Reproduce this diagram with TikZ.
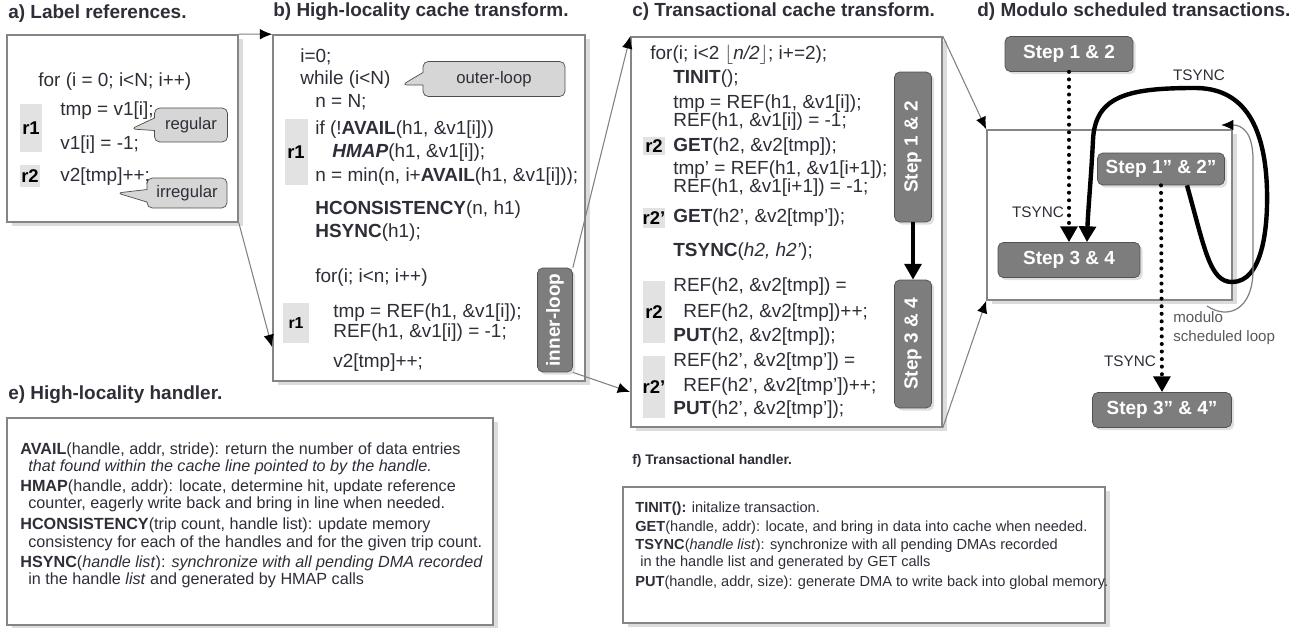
\documentclass[tikz,border=0pt]{standalone}
\usepackage{fontspec}
\setmainfont{Liberation Sans}
\usetikzlibrary{arrows.meta,shapes.callouts,shadows,fit}
\definecolor{boxline}{HTML}{858585}
\definecolor{txt}{HTML}{2E2E38}
\definecolor{stepfill}{HTML}{7D7D7D}
\definecolor{rfill}{HTML}{E2E2E2}
\definecolor{callfill}{HTML}{D6D6D6}
\begin{document}
\begin{tikzpicture}[x=0.02cm,y=-0.02cm,
  panel/.style={draw=boxline, line width=0.9pt, fill=white, inner sep=0pt,
    drop shadow={shadow xshift=3pt, shadow yshift=-2pt, opacity=0.28}},
  title/.style={anchor=mid west, inner sep=0pt, font=\fontsize{10.8}{13}\selectfont\bfseries, text=txt},
  code/.style={anchor=mid west, inner sep=0pt, font=\fontsize{10.8}{13}\selectfont, text=txt},
  desc/.style={anchor=mid west, inner sep=0pt, font=\fontsize{9.2}{11}\selectfont, text=txt},
  descf/.style={anchor=mid west, inner sep=0pt, font=\fontsize{8.3}{10}\selectfont, text=txt},
  rlab/.style={fill=rfill, font=\fontsize{10.5}{12}\selectfont\bfseries, text=black, inner sep=0pt},
  stepnode/.style={draw=stepfill!65!black, fill=stepfill, rounded corners=3pt, text=white,
    font=\fontsize{10.8}{13}\selectfont\bfseries, inner sep=0pt,
    drop shadow={opacity=0.25, shadow xshift=1.5pt, shadow yshift=-1.5pt}},
  callnode/.style={rectangle callout, draw=gray!60!black, fill=callfill, rounded corners=3pt,
    font=\fontsize{9.5}{11}\selectfont, text=txt, inner sep=0pt},
  zoomline/.style={draw=gray, line width=0.6pt, -{Latex[length=7pt,width=6pt,color=black]}},
  bigarrow/.style={line width=2.5pt, -{Triangle[width=9.5pt,length=9pt]}},
  dotline/.style={line width=2.3pt, line cap=round, dash pattern=on 0pt off 4.3pt,
    -{Triangle[width=9.5pt,length=9pt]}},
  loopline/.style={draw=gray, line width=0.7pt, -{Latex[length=7pt,width=6pt,color=black]}},
  lbl/.style={inner sep=0pt, font=\fontsize{8.7}{10}\selectfont, text=txt}
]
\useasboundingbox (0,0) rectangle (1302,628);

% ---------- titles ----------
\node[title] (ta) at (8,14) {a) Label references.};
\node[title] (tb) at (273,12) {b) High-locality cache transform.};
\node[title] (tc) at (632,12) {c) Transactional cache transform.};
\node[title] (td) at (977,12) {d) Modulo scheduled transactions.};
\node[title] (te) at (8,395) {e) High-locality handler.};
\node[title, font=\fontsize{7.9}{10}\selectfont\bfseries] (tf) at (632,460) {f) Transactional handler.};

% ---------- panels ----------
\node[panel, fit={(7,35) (238,222)}] (a) {};
\node[panel, fit={(273,35) (585,381)}] (b) {};
\node[panel, fit={(631,37) (942,427)}] (c) {};
\node[panel, fit={(987,130) (1232,300)}] (d) {};
\node[panel, fit={(7,418) (493,625)}] (e) {};
\node[panel, fit={(623,487) (1105,623)}] (f) {};

% ---------- panel a ----------
\node[rlab, minimum width=0.44cm, minimum height=0.98cm] (ar1) at (31,128) {r1};
\node[rlab, minimum width=0.42cm, minimum height=0.46cm] (ar2) at (30,176) {r2};
\node[code] (a1) at (38,82) {for (i = 0; i<N; i++)};
\node[code] (a2) at (60,111) {tmp = v1[i];};
\node[code] (a3) at (60,145) {v1[i] = -1;};
\node[code] (a4) at (60,177) {v2[tmp]++;};
\node[callnode, minimum width=1.46cm, minimum height=0.68cm,
  callout absolute pointer={(131,129)}] (creg) at (191,125) {regular};
\node[callnode, minimum width=1.6cm, minimum height=0.6cm,
  callout absolute pointer={(117,193)}] (cirr) at (187,193) {irregular};

% ---------- panel b ----------
\node[rlab, minimum width=0.46cm, minimum height=1.34cm] (br1) at (296,152) {r1};
\node[rlab, minimum width=0.52cm, minimum height=0.8cm, font=\fontsize{9}{10}\selectfont\bfseries] (br2) at (296,323) {r1};
\node[code] (b1) at (300,58) {i=0;};
\node[code] (b2) at (300,80) {while (i<N)};
\node[code] (b3) at (315,103) {n = N;};
\node[code] (b4) at (315,130) {if (!\textbf{AVAIL}(h1, \&v1[i]))};
\node[code] (b5) at (332,153) {\textbf{\textit{HMAP}}(h1, \&v1[i]);};
\node[code] (b6) at (315,177) {n = min(n, i+\textbf{AVAIL}(h1, \&v1[i]));};
\node[code] (b7) at (315,210) {\textbf{HCONSISTENCY}(n, h1)};
\node[code] (b8) at (315,233) {\textbf{HSYNC}(h1);};
\node[code] (b9) at (315,278) {for(i; i<n; i++)};
\node[code] (b10) at (333,313) {tmp = REF(h1, \&v1[i]);};
\node[code] (b11) at (333,333) {REF(h1, \&v1[i]) = -1;};
\node[code] (b12) at (333,363) {v2[tmp]++;};
\node[callnode, minimum width=2.84cm, minimum height=0.7cm,
  callout absolute pointer={(402,85)}] (cout) at (494,79) {outer-loop};
\node[stepnode, rotate=90, minimum width=2.08cm, minimum height=0.7cm] (il) at (555,320) {inner-loop};

% ---------- panel c ----------
\node[rlab, minimum width=0.44cm, minimum height=0.36cm] (cr1) at (654,146) {r2};
\node[rlab, minimum width=0.44cm, minimum height=0.42cm] (cr2) at (654,218) {r2'};
\node[rlab, minimum width=0.44cm, minimum height=1.26cm] (cr3) at (654,312) {r2};
\node[rlab, minimum width=0.44cm, minimum height=1.26cm] (cr4) at (654,387) {r2'};
\node[code] (c1) at (650,55) {for(i; i<2 $\lfloor$\textit{n/2}$\rfloor$; i+=2);};
\node[code] (c2) at (673,79) {\textbf{TINIT}();};
\node[code] (c3) at (673,104) {tmp = REF(h1, \&v1[i]);};
\node[code] (c4) at (673,122) {REF(h1, \&v1[i]) = -1;};
\node[code] (c5) at (673,147) {\textbf{GET}(h2, \&v2[tmp]);};
\node[code] (c6) at (673,170) {tmp' = REF(h1, \&v1[i+1]);};
\node[code] (c7) at (673,188) {REF(h1, \&v1[i+1]) = -1;};
\node[code] (c8) at (673,218) {\textbf{GET}(h2', \&v2[tmp']);};
\node[code] (c9) at (673,252) {\textbf{TSYNC}(\textit{h2, h2'});};
\node[code] (c10) at (673,287) {REF(h2, \&v2[tmp]) =};
\node[code] (c11) at (683,313) {REF(h2, \&v2[tmp])++;};
\node[code] (c12) at (673,337) {\textbf{PUT}(h2, \&v2[tmp]);};
\node[code] (c13) at (673,362) {REF(h2', \&v2[tmp']) =};
\node[code] (c14) at (683,387) {REF(h2', \&v2[tmp'])++;};
\node[code] (c15) at (673,410) {\textbf{PUT}(h2', \&v2[tmp']);};
\node[stepnode, rotate=90, minimum width=3.0cm, minimum height=0.74cm] (sc12) at (913,147) {Step 1 \& 2};
\node[stepnode, rotate=90, minimum width=2.56cm, minimum height=0.74cm] (sc34) at (913,344) {Step 3 \& 4};
\draw[bigarrow] (sc12.west) -- (sc34.east);

% ---------- panel d ----------
\node[stepnode, minimum width=2.56cm, minimum height=0.7cm] (sd12) at (1069,54) {Step 1 \& 2};
\node[stepnode, minimum width=2.54cm, minimum height=0.64cm] (sd1p) at (1161,169) {Step 1" \& 2"};
\node[stepnode, minimum width=2.84cm, minimum height=0.7cm] (sd34) at (1069,260) {Step 3 \& 4};
\node[stepnode, minimum width=2.78cm, minimum height=0.7cm] (sd3p) at (1162,410) {Step 3" \& 4"};
\draw[dotline] (sd12.south) -- (sd34.north);
\draw[dotline] (sd1p.south) -- (sd3p.north);
\draw[bigarrow] ([xshift=0.52cm]sd1p.south) .. controls (1205,250) and (1210,282) .. (1232,282)
  .. controls (1262,282) and (1268,230) .. (1267,190)
  .. controls (1265,120) and (1240,88) .. (1195,88)
  .. controls (1130,88) and (1095,95) .. (1093,140)
  .. controls (1091,180) and (1088,210) .. ([xshift=0.36cm]sd34.north);
\coordinate (lps) at (1207,306);
\draw[loopline] (lps) .. controls (1228,320) and (1253,310) .. (1253,270)
  -- (1253,160) .. controls (1253,132) and (1242,125) .. (1221,125);
\node[lbl, anchor=mid] (ts1) at (1038,213) {TSYNC};
\node[lbl, anchor=mid] (ts2) at (1199,76) {TSYNC};
\node[lbl, anchor=mid] (ts3) at (1130,362) {TSYNC};
\node[lbl, anchor=mid west, font=\fontsize{8.6}{10}\selectfont, text=txt!80] (ml1) at (1173,318) {modulo};
\node[lbl, anchor=mid west, font=\fontsize{8.6}{10}\selectfont, text=txt!80] (ml2) at (1173,337) {scheduled loop};

% ---------- zoom connectors ----------
\coordinate (bin) at (272,347);
\coordinate (cin) at (630,392);
\draw[zoomline] (a.north east) -- (b.north west);
\draw[zoomline] (a.south east) -- (bin);
\draw[zoomline] (il.south east) -- (c.north west);
\draw[zoomline] (il.south west) -- (cin);
\draw[zoomline] (c.north east) -- (d.north west);
\draw[zoomline] (c.south east) -- (d.south west);

% ---------- panel e ----------
\node[desc] (e1) at (20,450) {\textbf{AVAIL}(handle, addr, stride): return the number of data entries};
\node[desc] (e2) at (28,467) {\textit{that found within the cache line pointed to by the handle.}};
\node[desc] (e3) at (20,487) {\textbf{HMAP}(handle, addr): locate, determine hit, update reference};
\node[desc] (e4) at (28,504) {counter, eagerly write back and bring in line when needed.};
\node[desc] (e5) at (20,525) {\textbf{HCONSISTENCY}(trip count, handle list): update memory};
\node[desc] (e6) at (28,543) {consistency for each of the handles and for the given trip count.};
\node[desc] (e7) at (20,563) {\textbf{HSYNC}(\textit{handle list}): \textit{synchronize with all pending DMA recorded}};
\node[desc] (e8) at (28,580) {in the handle \textit{list} and generated by HMAP calls};

% ---------- panel f ----------
\node[descf] (f1) at (635,508) {\textbf{TINIT():} initalize transaction.};
\node[descf] (f2) at (635,527) {\textbf{GET}(handle, addr): locate, and bring in data into cache when needed.};
\node[descf] (f3) at (635,545) {\textbf{TSYNC}(\textit{handle list}): synchronize with all pending DMAs recorded};
\node[descf] (f4) at (640,562) {in the handle list and generated by GET calls};
\node[descf] (f5) at (635,582) {\textbf{PUT}(handle, addr, size): generate DMA to write back into global memory.};
\end{tikzpicture}
\end{document}
